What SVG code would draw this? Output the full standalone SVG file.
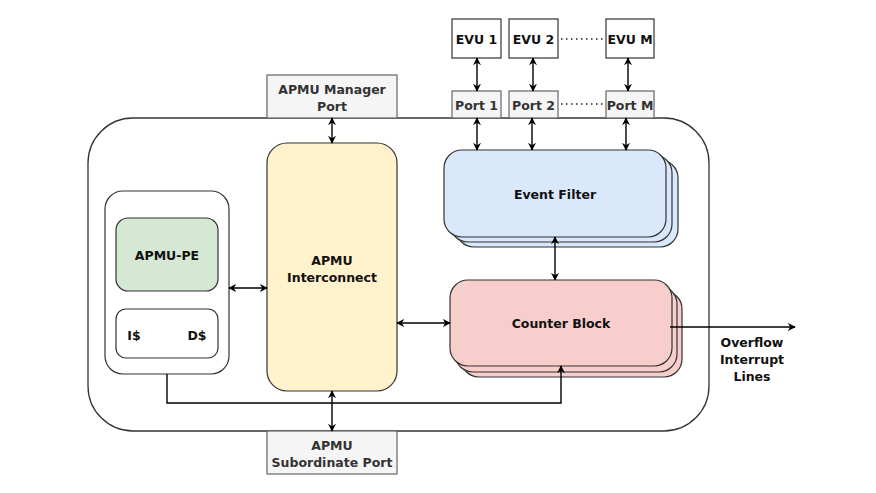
<svg xmlns="http://www.w3.org/2000/svg" width="876" height="493" viewBox="0 0 876 493">
<defs>
<marker id="ah" viewBox="0 0 10 10" refX="9" refY="5" markerWidth="8" markerHeight="8" markerUnits="userSpaceOnUse" orient="auto-start-reverse">
<path d="M0,0 L10,5 L0,10 L3,5 Z" fill="#000"/>
</marker>
</defs>
<style>
text{font-family:"DejaVu Sans","Liberation Sans",sans-serif;font-weight:bold;font-size:12.5px;fill:#111;text-anchor:middle;dominant-baseline:central}
.port{fill:#f5f5f5;stroke:#666;stroke-width:1.2}
.pt{fill:#333}
.box{stroke:#333;stroke-width:1.2}
.c{fill:none;stroke:#000;stroke-width:1.4}
.bi{marker-start:url(#ah);marker-end:url(#ah)}
.dot{fill:none;stroke:#222;stroke-width:1.4;stroke-dasharray:1.5 3.5}
</style>
<rect width="876" height="493" fill="#fff"/>
<g id="apmu">
<rect x="88" y="118" width="621" height="313" rx="45" fill="#fff" stroke="#333" stroke-width="1.3"/>
</g>
<g id="manager-port">
<rect class="port" x="267" y="75" width="130" height="43"/>
<text class="pt" x="332" y="89">APMU Manager</text>
<text class="pt" x="332" y="106">Port</text>
</g>
<g id="subordinate-port">
<rect class="port" x="267" y="431" width="130" height="43"/>
<text class="pt" x="332" y="445">APMU</text>
<text class="pt" x="332" y="462">Subordinate Port</text>
</g>
<g id="interconnect">
<rect class="box" x="267" y="143" width="130" height="248" rx="20" fill="#fff2cc"/>
<text x="332" y="260">APMU</text>
<text x="332" y="277">Interconnect</text>
</g>
<g id="pe-cluster">
<rect class="box" x="105" y="191" width="124" height="183" rx="18" fill="#fff"/>
</g>
<g id="apmu-pe">
<rect class="box" x="116" y="218" width="102" height="73" rx="12" fill="#d5e8d4"/>
<text x="167" y="255">APMU-PE</text>
</g>
<g id="caches">
<rect class="box" x="116" y="309" width="102" height="49" rx="10" fill="#fff"/>
<text x="134" y="335">I$</text>
<text x="197" y="335">D$</text>
</g>
<g id="event-filter">
<rect class="box" x="456" y="160" width="222" height="87" rx="18" fill="#dae8fc"/>
<rect class="box" x="450" y="155" width="222" height="87" rx="18" fill="#dae8fc"/>
<rect class="box" x="444" y="150" width="222" height="87" rx="18" fill="#dae8fc"/>
<text x="555" y="194">Event Filter</text>
</g>
<g id="counter-block">
<rect class="box" x="461" y="291" width="221" height="86" rx="18" fill="#f8cecc"/>
<rect class="box" x="455" y="286" width="222" height="86" rx="18" fill="#f8cecc"/>
<rect class="box" x="450" y="280" width="222" height="86" rx="18" fill="#f8cecc"/>
<text x="561" y="323">Counter Block</text>
</g>
<g id="evu1"><rect class="box" x="452" y="19" width="49" height="39" fill="#fff"/><text x="476.5" y="39">EVU 1</text></g>
<g id="evu2"><rect class="box" x="509" y="19" width="49" height="39" fill="#fff"/><text x="533.5" y="39">EVU 2</text></g>
<g id="evum"><rect class="box" x="606" y="19" width="48" height="39" fill="#fff"/><text x="630" y="39">EVU M</text></g>
<g id="port1"><rect class="port" x="452" y="91" width="49" height="27"/><text class="pt" x="476.5" y="105">Port 1</text></g>
<g id="port2"><rect class="port" x="509" y="91" width="49" height="27"/><text class="pt" x="533.5" y="105">Port 2</text></g>
<g id="portm"><rect class="port" x="606" y="91" width="48" height="27"/><text class="pt" x="630" y="105">Port M</text></g>
<g id="overflow-label">
<text x="752" y="342">Overflow</text>
<text x="752" y="359">Interrupt</text>
<text x="752" y="376">Lines</text>
</g>
<g id="connectors">
<line class="dot" x1="561" y1="39" x2="605" y2="39"/>
<line class="dot" x1="561" y1="104" x2="605" y2="104"/>
<line class="c bi" x1="477" y1="58" x2="477" y2="91"/>
<line class="c bi" x1="533" y1="58" x2="533" y2="91"/>
<line class="c bi" x1="628" y1="58" x2="628" y2="91"/>
<line class="c bi" x1="477" y1="118" x2="477" y2="150"/>
<line class="c bi" x1="532" y1="118" x2="532" y2="150"/>
<line class="c bi" x1="626" y1="118" x2="626" y2="150"/>
<line class="c bi" x1="332" y1="118" x2="332" y2="143"/>
<line class="c bi" x1="332" y1="391" x2="332" y2="431"/>
<line class="c bi" x1="229" y1="288" x2="267" y2="288"/>
<line class="c bi" x1="397" y1="323" x2="450" y2="323"/>
<line class="c bi" x1="555" y1="237" x2="555" y2="280"/>
<line class="c" x1="670" y1="327" x2="795" y2="327" marker-end="url(#ah)"/>
<polyline class="c" points="167,374 167,403 561,403 561,366" marker-end="url(#ah)"/>
</g>
</svg>
